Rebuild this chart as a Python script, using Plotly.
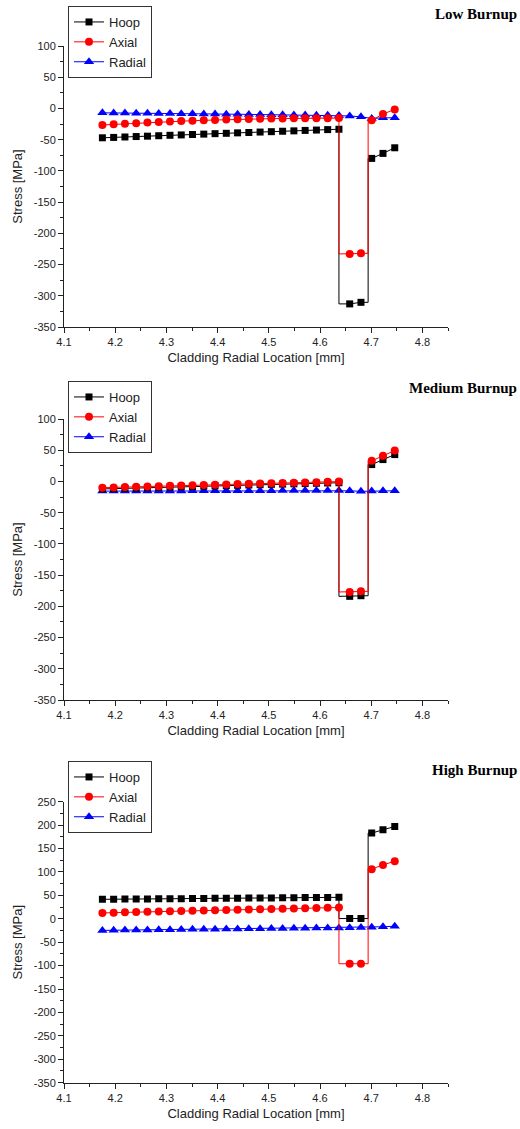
import plotly.graph_objects as go

# ---------------- data ----------------
x_inner = [4.175, 4.197, 4.219, 4.241, 4.263, 4.285, 4.307, 4.329, 4.351, 4.373, 4.395,
           4.417, 4.439, 4.461, 4.483, 4.505, 4.527, 4.549, 4.571, 4.593, 4.615, 4.637]
x_mid = [4.658, 4.680]
x_outer = [4.701, 4.723, 4.746]
x_interface = [4.637, 4.694]

# Low burnup
low_hoop_inner = [-47, -46.4, -45.7, -45, -44.4, -43.7, -43, -42.4, -41.7, -41.1, -40.4,
                  -39.8, -39.1, -38.5, -37.8, -37.2, -36.5, -35.9, -35.2, -34.6, -33.9, -33.3]
low_hoop_mid = [-313, -310.5]
low_hoop_outer = [-80, -72, -63]
low_axial_inner = [-26.5, -25.5, -24.5, -23.6, -22.7, -21.9, -21.1, -20.3, -19.6, -19, -18.4,
                   -17.9, -17.4, -17, -16.6, -16.3, -16.1, -15.9, -15.8, -15.7, -15.6, -15.5]
low_axial_mid = [-233, -232]
low_axial_outer = [-19, -9, -1.5]
low_radial = [-7, -7.1, -7.3, -7.5, -7.7, -7.9, -8.1, -8.3, -8.5, -8.7, -8.9,
              -9.1, -9.3, -9.5, -9.7, -9.9, -10.1, -10.3, -10.5, -10.7, -10.9, -11.1,
              -12, -13.5, -16, -15, -15]

# Medium burnup
med_hoop_inner = [-12, -11.5, -11, -10.6, -10.1, -9.6, -9.1, -8.6, -8.1, -7.6, -7.1,
                  -6.6, -6.2, -5.7, -5.2, -4.7, -4.3, -3.8, -3.4, -2.9, -2.5, -2.1]
med_hoop_mid = [-184, -183]
med_hoop_outer = [27, 35, 43]
med_axial_inner = [-10, -9.5, -9, -8.5, -8, -7.5, -7, -6.6, -6.1, -5.6, -5.1,
                   -4.7, -4.2, -3.8, -3.3, -2.9, -2.4, -2, -1.5, -1.1, -0.6, -0.2]
med_axial_mid = [-177, -176]
med_axial_outer = [33, 41, 49.5]
med_radial = [-15.5, -15.5, -15.4, -15.4, -15.3, -15.3, -15.2, -15.2, -15.1, -15.1, -15,
              -15, -14.9, -14.9, -14.8, -14.8, -14.7, -14.7, -14.6, -14.6, -14.5, -14.5,
              -15, -15.8, -15.5, -15, -15]

# High burnup
high_hoop_inner = [41.6, 41.8, 42, 42.2, 42.4, 42.6, 42.8, 43, 43.2, 43.4, 43.6,
                   43.8, 44, 44.2, 44.4, 44.6, 44.8, 45, 45.2, 45.4, 45.6, 45.8]
high_hoop_mid = [0.5, 0.5]
high_hoop_outer = [183, 190, 197]
high_axial_inner = [12.5, 13.1, 13.7, 14.3, 14.9, 15.5, 16.1, 16.6, 17.2, 17.7, 18.3,
                    18.8, 19.4, 19.9, 20.5, 21, 21.5, 22, 22.6, 23.1, 23.6, 24.1]
high_axial_mid = [-96, -96]
high_axial_outer = [106, 115, 123]
high_radial = [-24.8, -24.5, -24.2, -24, -23.7, -23.4, -23.2, -22.9, -22.6, -22.4, -22.1,
               -21.9, -21.6, -21.4, -21.1, -20.9, -20.6, -20.4, -20.2, -19.9, -19.7, -19.5,
               -19, -18.5, -18, -17, -16]

panel_titles = ["Low Burnup", "Medium Burnup", "High Burnup"]
series_names = ["Hoop", "Axial", "Radial"]
x_ticks = [4.1, 4.2, 4.3, 4.4, 4.5, 4.6, 4.7, 4.8]
y_ticks_a = [100, 50, 0, -50, -100, -150, -200, -250, -300, -350]
y_ticks_b = [250, 200, 150, 100, 50, 0, -50, -100, -150, -200, -250, -300, -350]
x_title = "Cladding Radial Location [mm]"
y_title = "Stress [MPa]"

panels = [
    dict(hoop=(low_hoop_inner, low_hoop_mid, low_hoop_outer),
         axial=(low_axial_inner, low_axial_mid, low_axial_outer),
         radial=low_radial, yticks=y_ticks_a),
    dict(hoop=(med_hoop_inner, med_hoop_mid, med_hoop_outer),
         axial=(med_axial_inner, med_axial_mid, med_axial_outer),
         radial=med_radial, yticks=y_ticks_a),
    dict(hoop=(high_hoop_inner, high_hoop_mid, high_hoop_outer),
         axial=(high_axial_inner, high_axial_mid, high_axial_outer),
         radial=high_radial, yticks=y_ticks_b),
]

# ---------------- layout geometry ----------------
W = 520.0
H = 1129.0


def px(v):
    return v / W


def py(v):
    return 1 - v / H


x_dom = [px(64), px(448)]
y_doms = [
    [py(327), py(46)],
    [py(700), py(419)],
    [py(1082.7), py(801.7)],
]
legend_tops = [py(6), py(381), py(761)]
title_y = [py(14), py(388), py(770)]

styles = {
    "Hoop": dict(color="black", symbol="square", size=7),
    "Axial": dict(color="red", symbol="circle", size=8),
    "Radial": dict(color="blue", symbol="triangle-up", size=9),
}

x_all = x_inner + x_mid + x_outer

fig = go.Figure()
layout_upd = {}
annotations = []

for i, p in enumerate(panels):
    n = "" if i == 0 else str(i + 1)
    xa, ya = "x" + n, "y" + n
    leg = "legend" + n

    # draw order: radial, hoop, axial (axial on top of hoop)
    for name in ["Radial", "Hoop", "Axial"]:
        st = styles[name]
        if name == "Radial":
            lx, ly = x_all, p["radial"]
            mx, my = x_all, p["radial"]
        else:
            inner, mid, outer = p["hoop"] if name == "Hoop" else p["axial"]
            lx = x_inner + [x_interface[0]] + x_mid + [x_interface[1], x_interface[1]] + x_outer
            ly = inner + [mid[0]] + mid + [mid[-1], outer[0]] + outer
            mx = x_all
            my = inner + mid + outer
        fig.add_trace(go.Scatter(x=lx, y=ly, mode="lines", xaxis=xa, yaxis=ya,
                                 line=dict(color=st["color"], width=1),
                                 showlegend=False, hoverinfo="skip"))
        fig.add_trace(go.Scatter(x=mx, y=my, mode="markers", xaxis=xa, yaxis=ya,
                                 marker=dict(color=st["color"], symbol=st["symbol"], size=st["size"]),
                                 showlegend=False, name=name))
    # legend entries in the order Hoop, Axial, Radial
    for name in series_names:
        st = styles[name]
        fig.add_trace(go.Scatter(x=[None], y=[None], mode="lines+markers", name=name,
                                 xaxis=xa, yaxis=ya, legend=leg,
                                 line=dict(color=st["color"], width=1),
                                 marker=dict(color=st["color"], symbol=st["symbol"], size=st["size"])))

    yt = p["yticks"]
    layout_upd["xaxis" + n] = dict(
        domain=x_dom, anchor=ya, range=[4.1, 4.85], automargin=False,
        tickvals=x_ticks, ticktext=[f"{v:.1f}" for v in x_ticks],
        ticks="outside", ticklen=5, tickwidth=1, tickcolor="#222",
        minor=dict(dtick=0.05, tick0=4.1, ticks="outside", ticklen=3, tickcolor="#222"),
        showline=True, linecolor="#222", linewidth=1, showgrid=False, zeroline=False,
        tickfont=dict(family="Liberation Sans", size=11, color="#222"),
        title=dict(text=x_title, standoff=5,
                   font=dict(family="Liberation Sans", size=13, color="#222")),
    )
    layout_upd["yaxis" + n] = dict(
        domain=y_doms[i], anchor=xa, range=[min(yt), max(yt)], automargin=False,
        tickvals=yt, ticktext=[str(v) for v in yt],
        ticks="outside", ticklen=5, tickwidth=1, tickcolor="#222",
        minor=dict(dtick=25, tick0=0, ticks="outside", ticklen=3, tickcolor="#222"),
        showline=True, linecolor="#222", linewidth=1, showgrid=False, zeroline=False,
        tickfont=dict(family="Liberation Sans", size=11, color="#222"),
        title=dict(text=y_title, standoff=8,
                   font=dict(family="Liberation Sans", size=13, color="#222")),
    )
    layout_upd[leg] = dict(
        x=px(68), y=legend_tops[i], xanchor="left", yanchor="top",
        bgcolor="white", bordercolor="#333", borderwidth=1,
        font=dict(family="Liberation Sans", size=13, color="#222"),
        itemwidth=30, tracegroupgap=0,
    )
    annotations.append(dict(
        text="<b>" + panel_titles[i] + "</b>", xref="paper", yref="paper",
        x=px(519), y=title_y[i], xanchor="right", yanchor="middle", showarrow=False,
        font=dict(family="Liberation Serif", size=15, color="black"),
    ))

fig.update_layout(
    template="none",
    width=W, height=H,
    margin=dict(l=0, r=0, t=0, b=0, pad=0),
    paper_bgcolor="white", plot_bgcolor="white",
    annotations=annotations,
    **layout_upd,
)

# remove the default page margin so the 520x1129 figure fills the window exactly
fig.write_html(
    "out.html",
    config={"displayModeBar": False},
    post_script="document.body.style.margin='0';document.body.style.overflow='hidden';",
)
